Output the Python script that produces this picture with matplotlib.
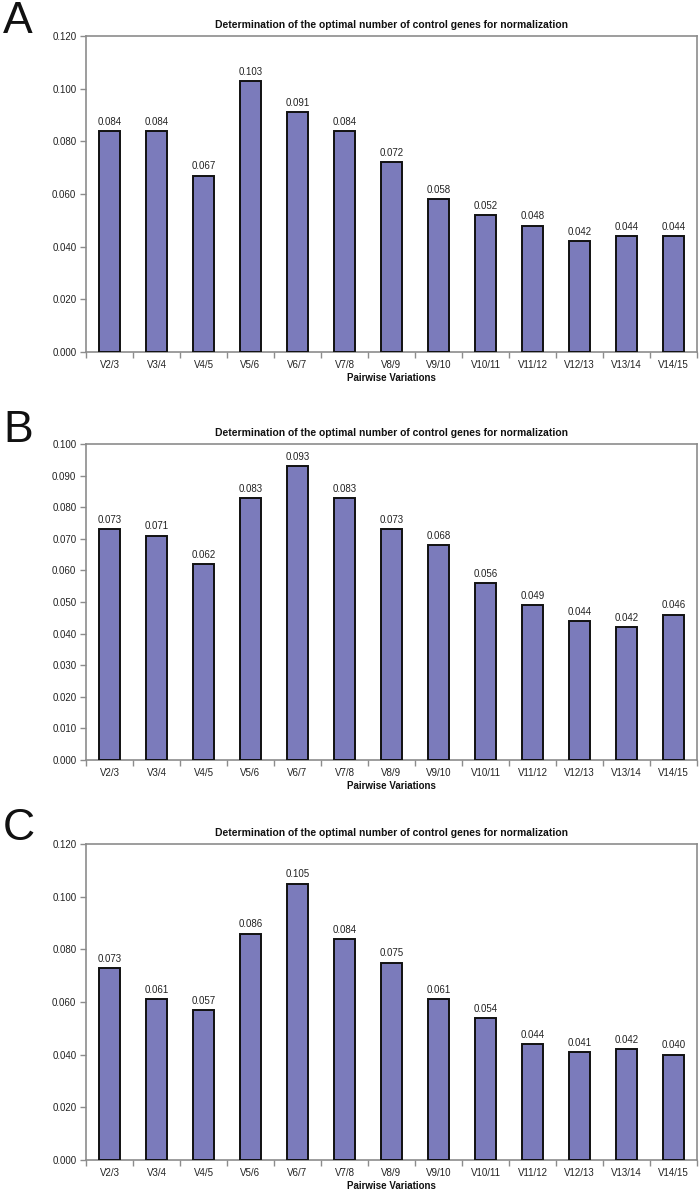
import matplotlib
matplotlib.use("Agg")
import matplotlib.pyplot as plt
from matplotlib.ticker import FixedLocator, FormatStrFormatter
import numpy as np

plt.rcParams['font.family'] = ['Liberation Sans', 'DejaVu Sans']

categories = ['V2/3', 'V3/4', 'V4/5', 'V5/6', 'V6/7', 'V7/8', 'V8/9',
              'V9/10', 'V10/11', 'V11/12', 'V12/13', 'V13/14', 'V14/15']

values_a = [0.084, 0.084, 0.067, 0.103, 0.091, 0.084, 0.072,
            0.058, 0.052, 0.048, 0.042, 0.044, 0.044]
values_b = [0.073, 0.071, 0.062, 0.083, 0.093, 0.083, 0.073,
            0.068, 0.056, 0.049, 0.044, 0.042, 0.046]
values_c = [0.073, 0.061, 0.057, 0.086, 0.105, 0.084, 0.075,
            0.061, 0.054, 0.044, 0.041, 0.042, 0.040]

panels = [
    ('A', values_a, 0.12, 0.02, 36, 352, 33),
    ('B', values_b, 0.10, 0.01, 444, 760, 442),
    ('C', values_c, 0.12, 0.02, 844, 1160, 840),
]

title = 'Determination of the optimal number of control genes for normalization'
bar_color = '#7B7BBB'
axis_gray = '#8C8C8C'

W, H = 700, 1189
fig = plt.figure(figsize=(W / 100, H / 100), dpi=100)

for letter, vals, ymax, step, top, bottom, letter_base in panels:
    left, right = 86, 697
    ax = fig.add_axes([left / W, 1 - bottom / H, (right - left) / W, (bottom - top) / H])
    x = np.arange(len(categories))
    ax.bar(x, vals, width=0.43, color=bar_color, edgecolor='#111111', linewidth=1.4, zorder=3)
    for xi, v in zip(x, vals):
        ax.annotate(f'{v:.3f}', (xi, v), xytext=(0, 3), textcoords='offset points',
                    ha='center', va='bottom', fontsize=7, color='#222222')

    ax.set_xlim(-0.5, len(categories) - 0.5)
    ax.set_ylim(0, ymax)
    ax.set_yticks(np.arange(0, ymax + step / 2, step))
    ax.yaxis.set_major_formatter(FormatStrFormatter('%.3f'))
    ax.set_xticks(x)
    ax.set_xticklabels(categories)
    ax.xaxis.set_minor_locator(FixedLocator(np.arange(-0.5, len(categories), 1.0)))
    ax.tick_params(axis='x', which='major', length=0, labelsize=7, pad=6, colors='#222222')
    ax.tick_params(axis='x', which='minor', length=4, color=axis_gray, width=1)
    ax.tick_params(axis='y', length=4, color=axis_gray, width=1, labelsize=7,
                   labelcolor='#222222', pad=3)

    for s in ax.spines.values():
        s.set_color(axis_gray)
        s.set_linewidth(1.2)

    ax.set_title(title, fontsize=7.5, fontweight='bold', pad=6, color='#111111')
    ax.set_xlabel('Pairwise Variations', fontsize=7, fontweight='bold', labelpad=2,
                  color='#111111')

    fig.text(3 / W, 1 - letter_base / H, letter, fontsize=32, ha='left', va='baseline',
             color='#111111')

fig.savefig('out.png', dpi=100)
